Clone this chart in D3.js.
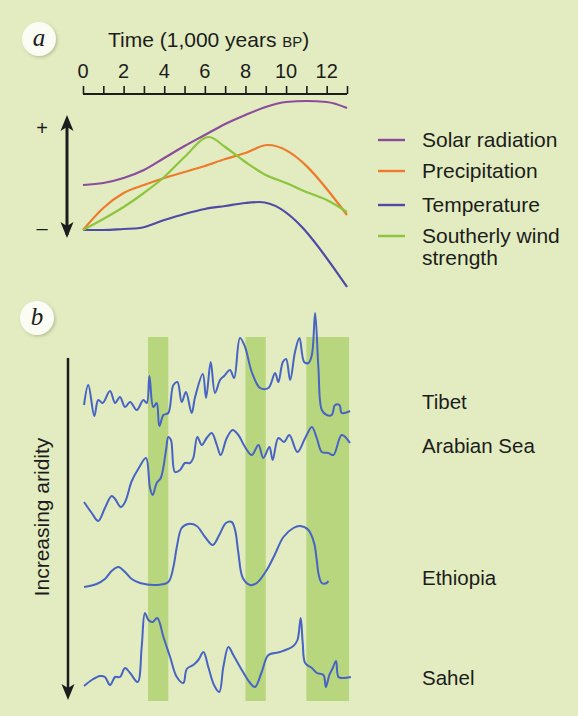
<!DOCTYPE html>
<html>
<head>
<meta charset="utf-8">
<script src="https://cdn.jsdelivr.net/npm/d3@7"></script>
<style>
  html, body { margin: 0; padding: 0; background: #e2ecc0; }
  svg { display: block; font-family: "Liberation Sans", Arial, sans-serif; }
</style>
</head>
<body>
<svg id="chart" width="578" height="716"></svg>
<script>
// ---- panel a: relative change, time in 1,000 years BP
const timeTicks = d3.range(0, 14);
const timeLabels = [0, 2, 4, 6, 8, 10, 12];

const solar = [[0, 4.5], [1, 4.7], [2, 5.2], [3, 6.0], [4, 7.2], [5, 8.4], [6, 9.5],
  [7, 10.6], [8, 11.5], [9, 12.3], [10, 12.8], [11, 12.9], [12, 12.8], [13, 12.2]];
const precipitation = [[0, 0], [1, 2.2], [2, 3.7], [3, 4.5], [4, 5.2], [5, 5.8], [6, 6.4],
  [7, 7.1], [8, 7.7], [9.1, 8.5], [13, 1.5]];
const temperature = [[0, 0], [1, 0], [2, 0.1], [2.8, 0.2], [4, 1.0], [5, 1.6], [6, 2.1],
  [7, 2.4], [8, 2.7], [8.7, 2.8], [13, -5.7]];
const wind = [[0, 0], [1, 1.1], [2, 2.3], [3, 3.7], [4, 5.3], [5, 7.3], [6.2, 9.3],
  [7, 8.3], [8, 6.8], [9, 5.5], [10, 4.7], [11, 3.8], [12, 3.0], [13, 1.8]];

const seriesA = [
  { name: 'Solar radiation', data: solar, color: '#8c4c9c' },
  { name: 'Precipitation', data: precipitation, color: '#ee7a2c' },
  { name: 'Temperature', data: temperature, color: '#4f4aa6' },
  { name: 'Southerly wind|strength', data: wind, color: '#8cc43e' }
];

// ---- panel b: aridity records (relative index)
const tibet = [[0.05, 2.5], [0.26, 4.5], [0.56, 1.4], [0.75, 3.0], [0.97, 2.7], [1.33, 3.9],
  [1.58, 2.7], [1.82, 3.3], [2.07, 2.3], [2.32, 2.8], [2.65, 2.0], [2.97, 3.0], [3.14, 2.7],
  [3.27, 5.4], [3.46, 2.3], [3.63, 2.7], [3.76, 0.4], [3.96, 1.5], [4.2, 1.7], [4.45, 4.5],
  [4.65, 4.8], [4.86, 2.8], [5.07, 3.8], [5.35, 1.7], [5.52, 3.3], [5.9, 5.6], [6.06, 3.2],
  [6.29, 6.8], [6.5, 3.7], [6.75, 5.0], [6.95, 5.4], [7.24, 6.0], [7.44, 5.2], [7.73, 9.2],
  [7.98, 8.3], [8.31, 5.8], [8.72, 4.2], [9.13, 4.2], [9.46, 5.7], [9.62, 4.8], [9.84, 6.8],
  [10.0, 7.1], [10.2, 5.0], [10.44, 7.8], [10.66, 9.2], [10.89, 6.8], [11.1, 6.7], [11.27, 7.5],
  [11.43, 11.7], [11.59, 6.3], [11.76, 2.0], [12.0, 1.5], [12.25, 1.5], [12.41, 2.5],
  [12.63, 2.5], [12.74, 1.7], [13.15, 1.9]];
const arabianSea = [[0.05, 2.8], [0.43, 1.7], [0.75, 0.9], [1.08, 2.2], [1.41, 3.4], [1.58, 3.1],
  [1.86, 2.3], [2.07, 2.8], [2.4, 4.9], [2.72, 6.1], [3.1, 7.2], [3.3, 4.2], [3.43, 3.5],
  [3.63, 4.7], [3.83, 5.2], [4.09, 8.0], [4.2, 9.3], [4.33, 9.0], [4.53, 5.8], [4.78, 6.0],
  [5.02, 6.7], [5.27, 6.7], [5.43, 7.2], [5.63, 9.3], [5.85, 8.5], [6.09, 9.2], [6.34, 9.7],
  [6.59, 8.5], [6.78, 7.5], [7.08, 9.2], [7.37, 10.0], [7.65, 9.5], [7.98, 8.3], [8.31, 7.5],
  [8.64, 8.5], [8.88, 7.2], [9.18, 8.3], [9.34, 7.0], [9.62, 9.2], [9.9, 8.8], [10.16, 9.5],
  [10.56, 7.8], [10.94, 9.2], [11.27, 10.3], [11.51, 9.2], [11.76, 7.8], [12.08, 7.7],
  [12.33, 7.5], [12.74, 9.5], [13.15, 8.7]];
const ethiopia = [[0.05, 0.3], [0.67, 0.6], [1.08, 1.1], [1.41, 1.9], [1.74, 2.3], [2.07, 1.8],
  [2.4, 1.1], [2.81, 0.7], [3.63, 0.5], [4.2, 0.8], [4.45, 2.3], [4.62, 4.3], [4.86, 6.2],
  [5.19, 6.6], [5.6, 6.4], [6.01, 5.3], [6.39, 4.5], [6.71, 5.5], [7.04, 6.7], [7.32, 6.8],
  [7.49, 6.0], [7.65, 3.7], [7.87, 1.2], [8.23, 0.5], [8.56, 0.7], [9.05, 2.0], [9.46, 3.6],
  [9.87, 5.3], [10.36, 6.2], [10.69, 6.4], [11.1, 6.0], [11.38, 4.7], [11.51, 3.0],
  [11.6, 1.6], [11.76, 0.7], [12.0, 0.7], [12.08, 0.9]];
const sahel = [[0.05, 1.4], [0.43, 2.0], [0.84, 2.4], [1.08, 2.3], [1.33, 1.5], [1.58, 2.3],
  [1.82, 2.3], [2.07, 3.2], [2.32, 2.7], [2.69, 1.8], [2.89, 5.3], [3.05, 8.7], [3.22, 8.0],
  [3.43, 7.8], [3.66, 8.2], [3.96, 6.3], [4.29, 4.3], [4.62, 2.3], [4.94, 1.7], [5.11, 3.1],
  [5.43, 3.5], [5.68, 4.0], [5.93, 4.8], [6.17, 3.3], [6.45, 1.5], [6.71, 0.8], [6.91, 3.3],
  [7.16, 5.3], [7.4, 4.5], [7.82, 3.0], [8.23, 1.7], [8.47, 1.3], [8.8, 2.8], [9.13, 4.5],
  [9.7, 4.8], [10.36, 5.4], [10.56, 6.0], [10.72, 8.2], [10.82, 5.7], [10.94, 3.7],
  [11.27, 3.2], [11.51, 2.7], [11.84, 2.5], [11.96, 1.3], [12.13, 2.5], [12.3, 3.2],
  [12.46, 3.9], [12.58, 2.3], [12.82, 2.2], [13.19, 2.3]];

const recordNames = ['Tibet', 'Arabian Sea', 'Ethiopia', 'Sahel'];
const records = [tibet, arabianSea, ethiopia, sahel];

// arid periods (1,000 years BP)
const bands = [[3.2, 4.2], [8.0, 9.0], [11.0, 13.1]];

// ---- layout
const svg = d3.select('#chart');
const W = 578, H = 716;
const ink = '#1c1c1c';
const blue = '#4763c4';

svg.append('rect').attr('width', W).attr('height', H).attr('fill', '#e2ecc0');

const x = d3.scaleLinear().domain([0, 13]).range([83, 347]);
const yA = d3.scaleLinear().domain([0, 10]).range([230, 130]);

const defs = svg.append('defs');
const shadow = defs.append('filter').attr('id', 'soft').attr('x', '-30%').attr('y', '-30%')
  .attr('width', '160%').attr('height', '160%');
shadow.append('feDropShadow').attr('dx', 1.5).attr('dy', 1.5).attr('stdDeviation', 1.5)
  .attr('flood-color', '#9aa87a').attr('flood-opacity', 0.6);

function panelLabel(cx, cy, letter) {
  svg.append('circle').attr('cx', cx).attr('cy', cy).attr('r', 17)
    .attr('fill', '#fbfcf4').attr('filter', 'url(#soft)');
  svg.append('text').attr('x', cx).attr('y', cy + 7).attr('text-anchor', 'middle')
    .attr('font-family', '"Liberation Serif", "DejaVu Serif", serif')
    .attr('font-style', 'italic').attr('font-size', 25).attr('fill', ink).text(letter);
}

function arrowHead(px, py, dir) {
  // dir: -1 up, 1 down
  svg.append('path')
    .attr('d', `M${px},${py} L${px - 6.5},${py - dir * 16} L${px},${py - dir * 12} L${px + 6.5},${py - dir * 16} Z`)
    .attr('fill', ink);
}

// ---- panel a
panelLabel(39, 39, 'a');

const title = svg.append('text').attr('x', 108).attr('y', 47).attr('font-size', 21).attr('fill', ink);
title.append('tspan').text('Time (1,000 years ');
title.append('tspan').attr('font-size', 15).text('BP');
title.append('tspan').text(')');

const axisG = svg.append('g').attr('transform', 'translate(0,94)');
axisG.call(d3.axisTop(x).tickValues(timeTicks).tickSize(8).tickFormat(''));
axisG.select('.domain').attr('d', `M${x(0)},0H${x(13)}`).attr('stroke', ink).attr('stroke-width', 2);
axisG.selectAll('.tick line').attr('stroke', ink).attr('stroke-width', 1.6);
svg.append('g').selectAll('text').data(timeLabels).join('text')
  .attr('x', d => x(d)).attr('y', 78).attr('text-anchor', 'middle')
  .attr('font-size', 20).attr('fill', ink).text(d => d);

// +/- arrow
svg.append('line').attr('x1', 67).attr('x2', 67).attr('y1', yA(11.0)).attr('y2', yA(-0.5))
  .attr('stroke', ink).attr('stroke-width', 3);
arrowHead(67, yA(11.5), -1);
arrowHead(67, yA(-0.8), 1);
svg.append('text').attr('x', 42).attr('y', 135).attr('text-anchor', 'middle')
  .attr('font-size', 20).attr('fill', ink).text('+');
svg.append('text').attr('x', 42).attr('y', 235).attr('text-anchor', 'middle')
  .attr('font-size', 20).attr('fill', ink).text('\u2013');

const lineA = d3.line().x(d => x(d[0])).y(d => yA(d[1])).curve(d3.curveMonotoneX);
svg.append('g').selectAll('path').data(seriesA).join('path')
  .attr('d', d => lineA(d.data)).attr('fill', 'none')
  .attr('stroke', d => d.color).attr('stroke-width', 2.2).attr('stroke-linejoin', 'round');

// legend
const legendY = [140, 171, 205, 236];
const leg = svg.append('g').selectAll('g').data(seriesA).join('g')
  .attr('transform', (d, i) => `translate(378,${legendY[i]})`);
leg.append('line').attr('x1', 0).attr('x2', 27).attr('stroke', d => d.color).attr('stroke-width', 2.4);
leg.append('text').attr('x', 44).attr('y', 7).attr('font-size', 21).attr('fill', ink)
  .each(function (d) {
    d.name.split('|').forEach((s, i) => {
      d3.select(this).append('tspan').attr('x', 44).attr('dy', i ? 22 : 0).text(s);
    });
  });

// ---- panel b
panelLabel(37, 318, 'b');

const bandTop = 337, bandBottom = 701;
svg.append('g').selectAll('rect').data(bands).join('rect')
  .attr('x', d => x(d[0])).attr('width', d => x(d[1]) - x(d[0]))
  .attr('y', bandTop).attr('height', bandBottom - bandTop)
  .attr('fill', '#b8d67e');

// aridity arrow
svg.append('line').attr('x1', 68).attr('x2', 68).attr('y1', 358).attr('y2', 690)
  .attr('stroke', ink).attr('stroke-width', 2.5);
arrowHead(68, 700, 1);
svg.append('text').attr('transform', 'translate(49,517) rotate(-90)')
  .attr('text-anchor', 'middle').attr('font-size', 21).attr('fill', ink)
  .text('Increasing aridity');

const baselines = [430, 530, 590, 700];
const labelY = [409, 453, 585, 685];
records.forEach((rec, i) => {
  const yB = d3.scaleLinear().domain([0, 10]).range([baselines[i], baselines[i] - 100]);
  const lineB = d3.line().x(d => x(d[0])).y(d => yB(d[1])).curve(d3.curveCatmullRom.alpha(0.5));
  svg.append('path').datum(rec).attr('d', lineB).attr('fill', 'none')
    .attr('stroke', blue).attr('stroke-width', 2).attr('stroke-linejoin', 'round');
  svg.append('text').attr('x', 422).attr('y', labelY[i]).attr('font-size', 20.5)
    .attr('fill', ink).text(recordNames[i]);
});
</script>
</body>
</html>
